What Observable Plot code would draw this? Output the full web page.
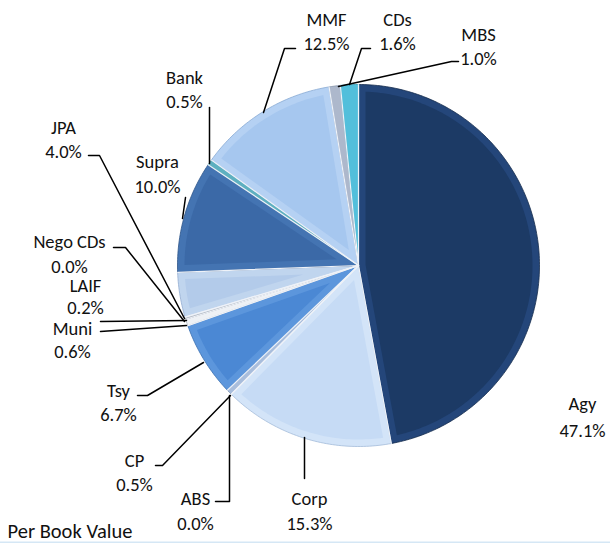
<!DOCTYPE html>
<html><head><meta charset="utf-8">
<script src="https://cdn.jsdelivr.net/npm/d3@7"></script>
<script src="https://cdn.jsdelivr.net/npm/@observablehq/plot@0.6"></script>
<style>
body{margin:0;background:#fff}
#chart{width:610px;height:543px}
</style>
</head><body><div id="chart"></div>
<script>
// ---- data (clockwise from 12 o'clock) ----
const categories = ["Agy","Corp","ABS","CP","Tsy","Muni","LAIF","Nego CDs","JPA","Supra","Bank","MMF","MBS","CDs"];
const shares     = [47.1, 15.3, 0.0, 0.5, 6.7, 0.6, 0.2, 0.0, 4.0, 10.0, 0.5, 12.5, 1.0, 1.6];
const caption = "Per Book Value";

// ---- styles ----
const baseColors = ["#1c3a65","#c6dbf5","#9fb6d6","#8fa9cf","#4b88d4","#e4e9f0","#a6adb8","#cccccc","#b3cbea","#3b69a7","#4ea2b4","#a6c7ef","#9eabc3","#3fb3d1"];
const rimColors  = ["#24467a","#d3e4f8","#b8cbe4","#a8bddc","#5c96dc","#eef1f5","#b8bec8","#dddddd","#c0d5ee","#4474b2","#5eb0c0","#b5d1f3","#adb8cc","#52bfdb"];
const edgeColors = ["#152c4d","#a3bbd9","#7f95b4","#7f95b4","#3a6fb0","#b5bcc6","#8a929c","#999999","#93acd0","#2f5689","#3a8797","#88a9d3","#8794ab","#2f9ab5"];

// ---- layout (pixels) ----
const W = 610, H = 543, CX = 358, CY = 265, R = 181, INSET = 7;
const labelLayout = {
  "Agy":      [582, 409, 436],
  "Corp":     [309, 504, 529],
  "ABS":      [195, 504, 529],
  "CP":       [134, 466, 490],
  "Tsy":      [118, 396, 420],
  "Muni":     [72, 334, 357],
  "LAIF":     [85, 291, 313],
  "Nego CDs": [69, 247, 272],
  "JPA":      [63, 133, 157],
  "Supra":    [157, 167, 192],
  "Bank":     [184, 83, 107],
  "MMF":      [326, 25, 49],
  "MBS":      [478, 40, 64],
  "CDs":      [397, 25, 49]
};
const leaderLayout = {
  "Corp":     [[304,437],[304,478]],
  "ABS":      [[215,501],[229,501],[229,395]],
  "CP":       [[155,465],[162,465],[230,395]],
  "Tsy":      [[137,395],[147,395],[203,362]],
  "Muni":     [[100,331],[186,325]],
  "LAIF":     [[100,321],[186,320]],
  "Nego CDs": [[113,247],[125,247],[184,321]],
  "JPA":      [[88,155],[99,155],[184,318]],
  "Supra":    [[185,197],[182,218]],
  "Bank":     [[209,107],[209,163]],
  "MMF":      [[295,48],[284,48],[263,112]],
  "MBS":      [[458,61],[451,61],[338,86]],
  "CDs":      [[370,48],[361,48],[349,84]]
};

const toX = px => (px - CX) / R;
const toY = py => (CY - py) / R;

// ---- slice geometry (in pie units, radius 1) ----
const total = d3.sum(shares);
let acc = 0;
const slices = categories.map((name, i) => {
  const a0 = acc / total * 2 * Math.PI;
  acc += shares[i];
  const a1 = acc / total * 2 * Math.PI;
  return {name, value: shares[i], a0, a1, base: baseColors[i], rim: rimColors[i], edge: edgeColors[i]};
});

function arcPts(a0, a1, r) {
  const n = Math.max(2, Math.ceil((a1 - a0) / (Math.PI / 180)));
  const pts = [];
  for (let k = 0; k <= n; k++) {
    const a = a0 + (a1 - a0) * k / n;
    pts.push([Math.sin(a) * r, Math.cos(a) * r]);
  }
  return pts;
}

const outerPts = [], innerPts = [];
for (const s of slices) {
  if (s.value <= 0) continue;
  const pts = [[0, 0], ...arcPts(s.a0, s.a1, 1)];
  pts.forEach(([x, y]) => outerPts.push({name: s.name, x, y, fill: s.rim, edge: s.edge}));
  const d = INSET / R, span = s.a1 - s.a0;
  if (span > 0.12) {
    const half = span / 2, mid = s.a0 + half;
    const apex = d / Math.sin(half);
    const da = Math.asin(d / (1 - d));
    const ip = [[Math.sin(mid) * apex, Math.cos(mid) * apex], ...arcPts(s.a0 + da, s.a1 - da, 1 - d)];
    ip.forEach(([x, y]) => innerPts.push({name: s.name, x, y, fill: s.base}));
  }
}
// slice boundary rays
const rays = [];
slices.forEach(s => {
  rays.push({name: s.name, x: 0, y: 0}, {name: s.name, x: Math.sin(s.a0), y: Math.cos(s.a0)});
});

// labels
const nameRows = slices.map(s => ({text: s.name, x: toX(labelLayout[s.name][0]), y: toY(labelLayout[s.name][1])}));
const pctRows  = slices.map(s => ({text: s.value.toFixed(1) + "%", x: toX(labelLayout[s.name][0]), y: toY(labelLayout[s.name][2])}));
const leaders = [];
Object.entries(leaderLayout).forEach(([name, pts]) => pts.forEach(([px, py]) => leaders.push({name, x: toX(px), y: toY(py)})));

const FONT = "Carlito, Lato, 'Open Sans', sans-serif";

const chart = Plot.plot({
  width: W, height: H, margin: 0,
  style: {fontFamily: FONT, background: "#fff"},
  x: {domain: [toX(0), toX(W)], axis: null},
  y: {domain: [toY(H), toY(0)], axis: null},
  marks: [
    Plot.line(outerPts, {x: "x", y: "y", z: "name", fill: "fill", stroke: "edge", strokeWidth: 0.8, curve: "linear-closed"}),
    Plot.line(innerPts, {x: "x", y: "y", z: "name", fill: "fill", stroke: "none", curve: "linear-closed"}),
    Plot.line(rays, {x: "x", y: "y", z: "name", stroke: "#eef2f8", strokeWidth: 1.2}),
    Plot.line(leaders, {x: "x", y: "y", z: "name", stroke: "#000", strokeWidth: 1.5}),
    Plot.text(nameRows, {x: "x", y: "y", text: "text", fontSize: 18.5, fill: "#111", lineAnchor: "bottom", textAnchor: "middle"}),
    Plot.text(pctRows, {x: "x", y: "y", text: "text", fontSize: 18.5, fill: "#111", lineAnchor: "bottom", textAnchor: "middle"}),
    Plot.text([caption], {frameAnchor: "bottom-left", dx: 7, dy: -6, text: d => d, fontSize: 20.5, fill: "#111", lineAnchor: "bottom", textAnchor: "start"}),
    Plot.ruleY([toY(H - 1)], {stroke: "#d5e7f5", strokeWidth: 2})
  ]
});
document.getElementById("chart").appendChild(chart);
</script>
</body></html>
